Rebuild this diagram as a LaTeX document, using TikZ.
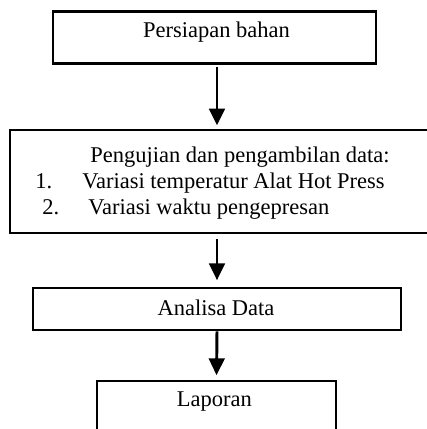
\documentclass[tikz,border=0pt]{standalone}
\usepackage{fontspec}
\setmainfont{Liberation Serif}
\usepackage{tikz}
\usetikzlibrary{arrows.meta, calc}
\tikzset{
  kotak/.style={
    draw=black, line width=2pt, rectangle,
    minimum width=#1, inner sep=0pt
  },
  teks/.style={font=\fontsize{16}{18.5}\selectfont, inner sep=0pt},
  panah/.style={-{Triangle[length=0.42cm,width=0.39cm]}, line width=2.1pt},
}

\begin{document}
\begin{tikzpicture}
    \useasboundingbox (0,0) rectangle (10.675,10.725);
    \clip (0,0) rectangle (10.675,10.725);

    \node[kotak=8.075cm, minimum height=1.3125cm] (persiapan) at (5.3625,9.79) {};
    \node[kotak=10.75cm, minimum height=2.575cm] (pengujian) at (5.625,6.1875) {};
    \node[kotak=9.2cm, minimum height=1.05cm] (analisa) at (5.425,3.0) {};
    \node[kotak=5.975cm, minimum height=1.7cm] (laporan) at (5.4125,0.35) {};

    \node[teks, anchor=base] (tpersiapan) at (5.4125,9.78) {Persiapan bahan};
    \node[teks, anchor=base] (tpengujian) at (6.0,6.665) {Pengujian dan pengambilan data:};
    \node[teks, anchor=base west] (num1) at (0.875,6.0175) {1.};
    \node[teks, anchor=base west] (var1) at (2.05,6.0175) {Variasi temperatur Alat Hot Press};
    \node[teks, anchor=base west] (num2) at (1.05,5.375) {2.};
    \node[teks, anchor=base west] (var2) at (2.2,5.375) {Variasi waktu pengepresan};
    \node[teks, anchor=base] (tanalisa) at (5.4,2.825) {Analisa Data};
    \node[teks, anchor=base] (tlaporan) at (5.36,0.575) {Laporan};

    \draw[panah, shorten <=0.06cm, shorten >=0.08cm]
      (persiapan.south -| analisa) -- (pengujian.north -| analisa);
    \draw[panah, shorten <=0.125cm, shorten >=0.16cm]
      (pengujian.south -| analisa) -- (analisa.north);
    \draw[panah, shorten >=0.11cm] (analisa.south) -- (laporan.north);
\end{tikzpicture}
\end{document}
